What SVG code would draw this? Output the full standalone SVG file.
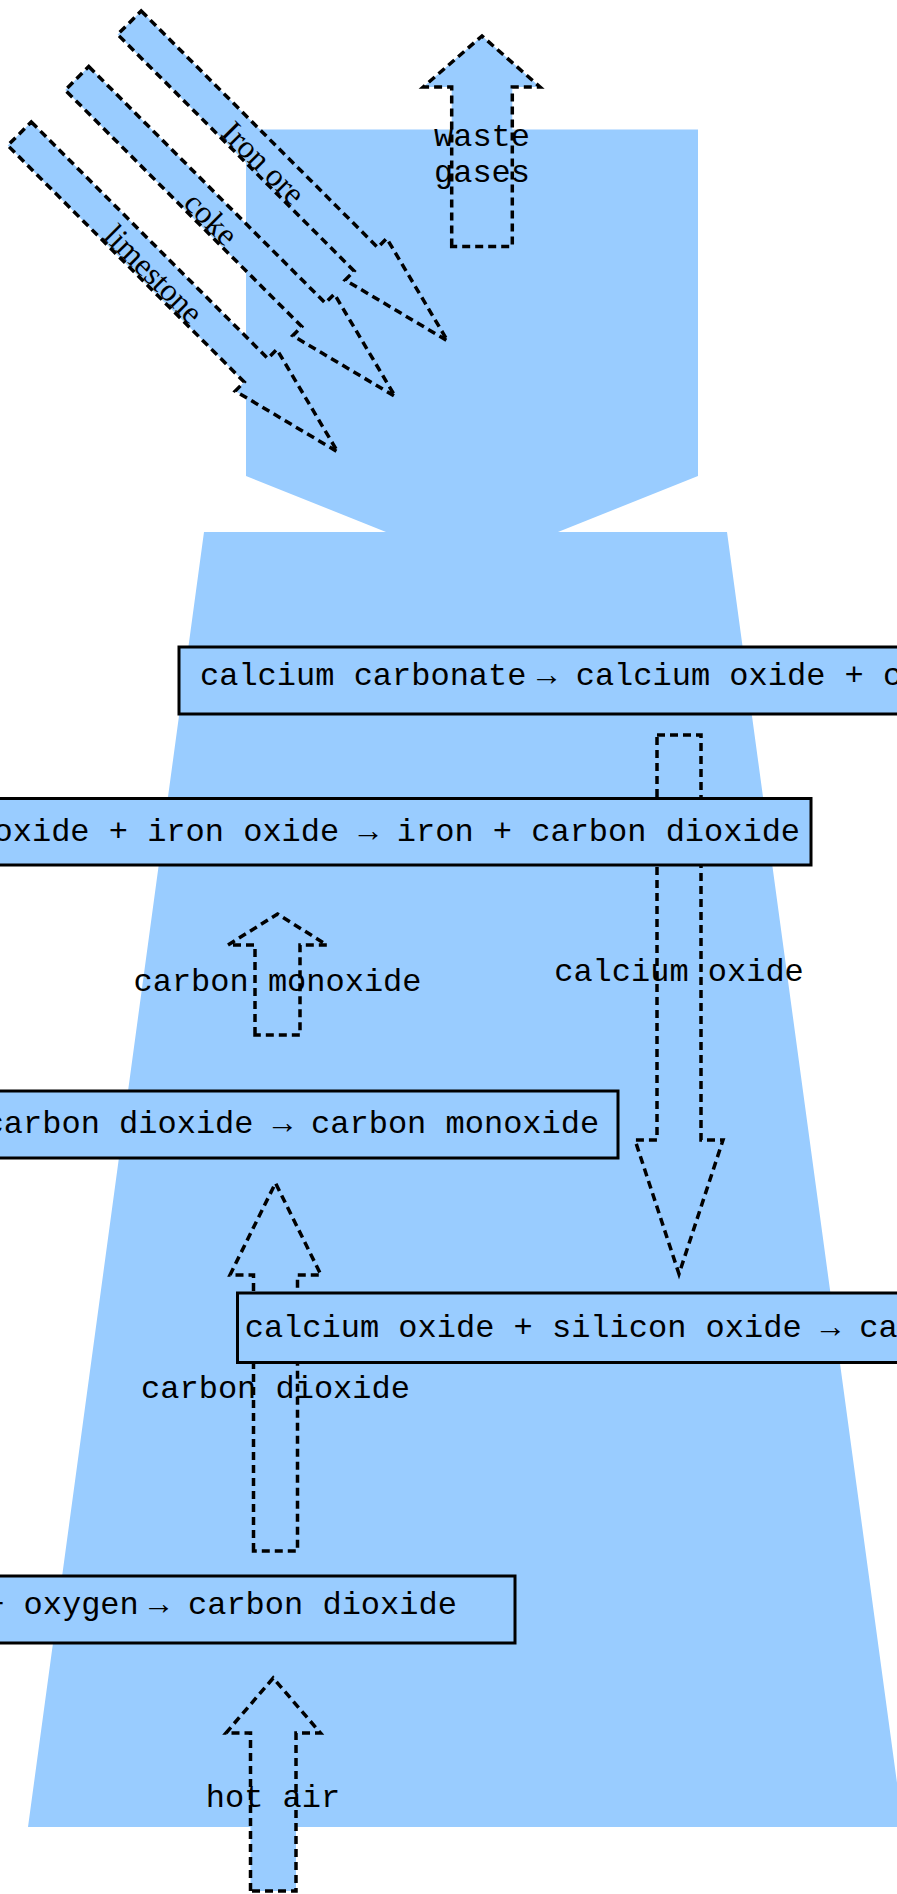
<svg xmlns="http://www.w3.org/2000/svg" width="897" height="1894" viewBox="0 0 897 1894">
<style>
.furnace{fill:#99ccff}
.arrow{fill:#99ccff;stroke:#000;stroke-width:3.5;stroke-dasharray:8 5}
.box{fill:#99ccff;stroke:#000;stroke-width:3}
.mono{font-family:"Liberation Mono","DejaVu Sans Mono",monospace;font-size:32px;fill:#000}
.serif{font-family:"Liberation Serif","DejaVu Serif",serif;font-size:32px;fill:#000}
</style>
<defs>
<path id="diag" d="M0,-16.65 H334.5 V-29.45 L450,0 L334.5,29.45 V16.65 H0 Z"/>
</defs>
<g id="furnace">
<polygon class="furnace" points="246,129.5 698,129.5 698,476 558,532 727,532 903,1827 28,1827 204,532 386,532 246,476"/>
</g>
<g id="connectors">
<g id="iron-ore" transform="translate(129.4,22.7) rotate(45)">
<use href="#diag" class="arrow"/>
<text class="serif" x="194" y="15" text-anchor="middle">Iron ore</text>
</g>
<g id="coke" transform="translate(77,78.3) rotate(45)">
<use href="#diag" class="arrow"/>
<text class="serif" x="194" y="15" text-anchor="middle">coke</text>
</g>
<g id="limestone" transform="translate(19.5,133.7) rotate(45)">
<use href="#diag" class="arrow"/>
<text class="serif" x="194" y="15" text-anchor="middle">limestone</text>
</g>
<polygon id="arrow-waste" class="arrow" points="451.7,246.4 451.7,87 423.3,87 482,36 540,87 512.3,87 512.3,246.4"/>
<polygon id="arrow-co" class="arrow" points="255,1035 255,945 228,945 277.5,914 327,945 300,945 300,1035"/>
<polygon id="arrow-cao" class="arrow" points="657,735 701,735 701,1140 723,1140 679,1274 635,1140 657,1140"/>
<polygon id="arrow-co2" class="arrow" points="253.5,1551 253.5,1275 230,1275 275.5,1183 321,1275 297.5,1275 297.5,1551"/>
<polygon id="arrow-air" class="arrow" points="250.5,1891 250.5,1733 226,1733 273.2,1678 320.5,1733 296,1733 296,1891"/>
</g>
<g id="box-limestone">
<rect class="box" x="179" y="647" width="740" height="67"/>
<text class="mono" y="685"><tspan x="200">calcium carbonate</tspan><tspan x="537">→</tspan><tspan x="575.7">calcium oxide + carbon dioxide</tspan></text>
</g>
<g id="box-iron">
<rect class="box" x="-10" y="798.5" width="821" height="66.5"/>
<text class="mono" x="-198.5" y="841">carbon monoxide + iron oxide → iron + carbon dioxide</text>
</g>
<g id="box-co">
<rect class="box" x="-10" y="1091" width="628" height="67"/>
<text class="mono" x="-188.2" y="1133">carbon + carbon dioxide → carbon monoxide</text>
</g>
<g id="box-slag">
<rect class="box" x="237.5" y="1293" width="700" height="69.5"/>
<text class="mono" x="244.7" y="1337">calcium oxide + silicon oxide → calcium silicate</text>
</g>
<g id="box-burn">
<rect class="box" x="-10" y="1576" width="525" height="67"/>
<text class="mono" y="1614"><tspan x="-149.3">carbon + oxygen</tspan><tspan x="149">→</tspan><tspan x="188">carbon dioxide</tspan></text>
</g>
<g id="labels">
<text class="mono" x="482" y="146" text-anchor="middle">waste</text>
<text class="mono" x="482" y="182" text-anchor="middle">gases</text>
<text class="mono" x="277.5" y="991" text-anchor="middle">carbon monoxide</text>
<text class="mono" x="679" y="981" text-anchor="middle">calcium oxide</text>
<text class="mono" x="275.5" y="1398" text-anchor="middle">carbon dioxide</text>
<text class="mono" x="273" y="1807" text-anchor="middle">hot air</text>
</g>
</svg>
